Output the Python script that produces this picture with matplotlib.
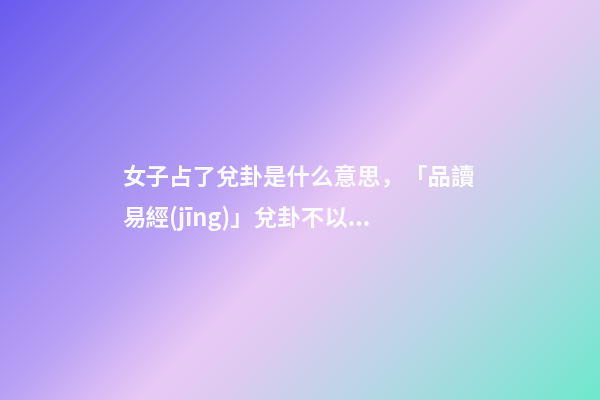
import numpy as np
import matplotlib
matplotlib.use("Agg")
import matplotlib.pyplot as plt
from matplotlib.colors import to_rgb

title_lines = ["女子占了兌卦是什么意思，「品讀", "易經(jīng)」兌卦不以..."]
stop_pos = [0.0, 0.2, 0.4, 0.54, 0.62, 0.78, 1.0]
stop_colors = ["#6a5aef", "#9282f0", "#b9a1f5", "#e9c9f6", "#dccbf0", "#b2d8e4", "#6ee9cd"]

W, H = 600, 400
fig = plt.figure(figsize=(6, 4), dpi=100)
ax = fig.add_axes([0, 0, 1, 1])
ax.set_axis_off()

xx, yy = np.meshgrid(np.arange(W) + 0.5, np.arange(H) + 0.5)
t = (xx + yy) / (W + H)
rgb = np.array([to_rgb(c) for c in stop_colors])
img = np.stack([np.interp(t, stop_pos, rgb[:, k]) for k in range(3)], axis=-1)
ax.imshow(img, extent=[0, W, H, 0], aspect="auto", interpolation="bilinear")
ax.set_xlim(0, W)
ax.set_ylim(H, 0)

fam = ["Noto Sans CJK SC", "DejaVu Sans"]
ys = [178, 218]
for line, y in zip(title_lines, ys):
    ax.text(122, y, line, fontsize=16.9, fontweight="bold", color="white",
            alpha=0.95, family=fam, ha="left", va="center")

fig.savefig("out.png", dpi=100)
